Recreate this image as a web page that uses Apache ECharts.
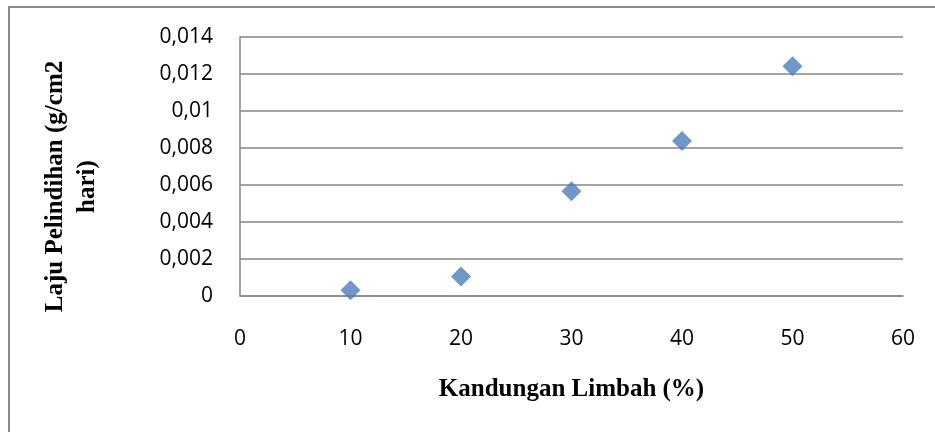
<!DOCTYPE html>
<html lang="id">
<head>
    <meta charset="UTF-8">
    <title>Laju Pelindihan vs Kandungan Limbah</title>
    <script src="https://cdn.jsdelivr.net/npm/echarts@6/dist/echarts.min.js"></script>
    <style>
        html, body { margin: 0; padding: 0; background: #fff; }
        #main { width: 935px; height: 432px; }
    </style>
</head>
<body>
    <div id="main"></div>
    <script type="text/javascript">
        // data
        var kandungan = [10, 20, 30, 40, 50];
        var laju = [0.00031, 0.00106, 0.00566, 0.00838, 0.01242];

        var xTicks = [0, 60, 10];          // min, max, interval
        var yTicks = [0, 0.014, 0.002];

        var points = kandungan.map(function (x, i) { return [x, laju[i]]; });

        function koma(v) {
            return String(parseFloat(v.toFixed(4))).replace('.', ',');
        }

        var myChart = echarts.init(document.getElementById('main'));
        var option = {
            backgroundColor: '#fff',
            animation: false,
            grid: { left: 240, right: 32, top: 37, bottom: 136 },
            graphic: [{
                type: 'rect',
                shape: { x: 9, y: 7, width: 1000, height: 1000 },
                style: { fill: 'none', stroke: '#8a8a8a', lineWidth: 2 }
            }],
            xAxis: {
                type: 'value',
                min: xTicks[0], max: xTicks[1], interval: xTicks[2],
                name: 'Kandungan Limbah (%)',
                nameLocation: 'middle',
                nameGap: 81,
                nameTextStyle: {
                    fontFamily: 'Liberation Serif', fontWeight: 'bold',
                    fontSize: 25, color: '#000'
                },
                axisLine: { lineStyle: { color: '#868686', width: 1.5 } },
                axisTick: { show: false },
                splitLine: { show: false },
                axisLabel: {
                    margin: 33, fontFamily: 'Open Sans', fontSize: 21, color: '#000'
                }
            },
            yAxis: {
                type: 'value',
                min: yTicks[0], max: yTicks[1], interval: yTicks[2],
                name: 'Laju Pelindihan (g/cm2\nhari)',
                nameLocation: 'middle',
                nameRotate: 90,
                nameGap: 136,
                nameTextStyle: {
                    fontFamily: 'Liberation Serif', fontWeight: 'bold',
                    fontSize: 25, lineHeight: 32, color: '#000',
                    padding: [0, 40, 0, 0]
                },
                axisLine: { show: true, lineStyle: { color: '#868686', width: 1.5 } },
                axisTick: { show: false },
                splitLine: { lineStyle: { color: '#868686', width: 1.5 } },
                axisLabel: {
                    margin: 27, fontFamily: 'Open Sans', fontSize: 21, color: '#000',
                    formatter: koma
                }
            },
            series: [{
                type: 'scatter',
                data: points,
                symbol: 'diamond',
                symbolSize: 20,
                itemStyle: { color: '#4a7ebb' }
            }]
        };

        myChart.setOption(option);
    </script>
</body>
</html>
